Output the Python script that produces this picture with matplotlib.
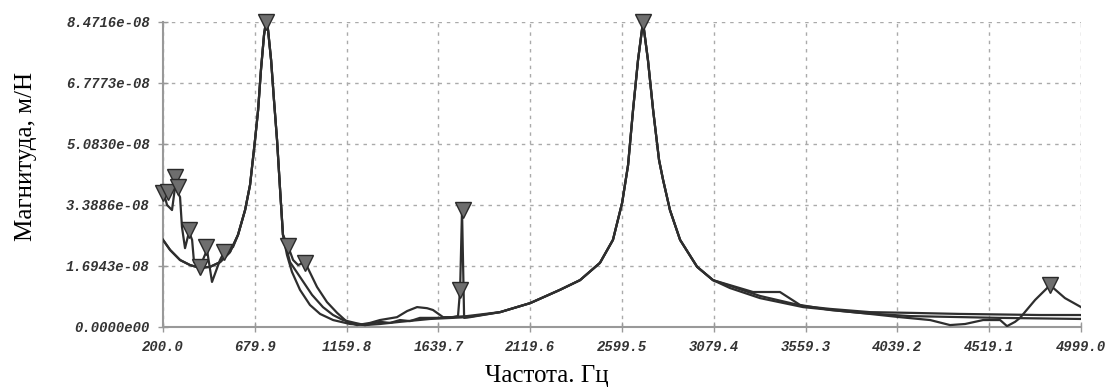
import matplotlib
matplotlib.use("Agg")
import matplotlib.pyplot as plt

# --- data (frequency in Hz, amplitude in 1e-8 m/N) ---
# shared first resonance peak
peak1_f = [592, 629, 655, 681, 697, 712, 728, 738, 749, 765, 780, 796, 812, 827]
peak1_a = [2.55, 3.24, 3.94, 5.19, 6.02, 7.14, 8.11, 8.47, 8.25, 7.41, 6.30, 5.19, 3.80, 2.55]

# shared second resonance peak
peak2_f = [1962, 2119, 2275, 2380, 2484, 2552, 2600, 2631, 2657, 2683, 2709,
           2735, 2762, 2793, 2814, 2850, 2903, 2992, 3075]
peak2_a = [0.40, 0.65, 1.02, 1.29, 1.77, 2.41, 3.44, 4.49, 6.02, 7.41, 8.47,
           7.41, 6.02, 4.63, 4.08, 3.24, 2.41, 1.66, 1.29]

# model curve 1
a_left_f = [200, 237, 289, 341, 393, 446, 498, 550]
a_left_a = [2.41, 2.13, 1.85, 1.71, 1.63, 1.66, 1.79, 2.07]
a_mid_f = [848, 874, 916, 968, 1021, 1089, 1178, 1256, 1334, 1439, 1596, 1789]
a_mid_a = [1.99, 1.52, 1.02, 0.60, 0.35, 0.18, 0.07, 0.04, 0.07, 0.13, 0.21, 0.26]
a_tail_f = [3164, 3321, 3546, 3844, 4105, 4576, 4999]
a_tail_a = [1.07, 0.79, 0.54, 0.38, 0.29, 0.24, 0.21]

# model curve 2
b_mid_f = [864, 916, 979, 1036, 1089, 1141, 1204, 1256, 1334, 1387, 1439, 1491, 1543, 1648, 1789]
b_mid_a = [1.79, 1.38, 0.88, 0.54, 0.32, 0.18, 0.10, 0.04, 0.13, 0.10, 0.18, 0.15, 0.24, 0.24, 0.29]
b_tail_f = [3164, 3321, 3546, 3687, 3896, 4105, 4366, 4785, 4999]
b_tail_a = [1.13, 0.85, 0.57, 0.49, 0.40, 0.38, 0.35, 0.32, 0.32]

# measured curve
c_left_f = [200, 221, 247, 263, 289, 299, 315, 336, 352, 362, 393, 430, 456, 498, 519, 566]
c_left_a = [3.80, 3.38, 3.24, 3.88, 3.60, 2.77, 2.18, 2.63, 2.41, 1.79, 1.66, 2.13, 1.24, 1.85, 2.07, 2.21]
c_mid_f = [853, 880, 906, 942, 1005, 1057, 1110, 1162, 1214, 1282, 1334, 1423, 1476, 1528,
           1580, 1611, 1664, 1716, 1742, 1753, 1763, 1774, 1805]
c_mid_a = [2.24, 1.85, 1.71, 1.79, 1.10, 0.68, 0.38, 0.13, 0.04, 0.10, 0.18, 0.26, 0.43, 0.54,
           0.51, 0.46, 0.26, 0.26, 0.29, 1.02, 3.24, 0.24, 0.26]
c_tail_f = [3164, 3284, 3425, 3530, 3687, 3844, 4053, 4210, 4314, 4393, 4487, 4576, 4612,
            4654, 4680, 4759, 4837, 4915, 4999]
c_tail_a = [1.15, 0.96, 0.96, 0.60, 0.46, 0.38, 0.26, 0.18, 0.04, 0.07, 0.18, 0.18, 0.01,
            0.13, 0.24, 0.74, 1.15, 0.79, 0.54]

# peak markers
mark_f = [200, 226, 263, 278, 336, 425, 393, 519, 738, 853, 942, 1768, 1753, 2709, 4837]
mark_a = [3.71, 3.74, 4.16, 3.88, 2.68, 2.21, 1.66, 2.07, 8.47, 2.24, 1.77, 3.24, 1.02, 8.47, 1.15]

xticks = [200.0, 679.9, 1159.8, 1639.7, 2119.6, 2599.5, 3079.4, 3559.3, 4039.2, 4519.1, 4999.0]
yticks = [0.0, 1.6943e-08, 3.3886e-08, 5.0830e-08, 6.7773e-08, 8.4716e-08]
ylabels = ["0.0000e00", "1.6943e-08", "3.3886e-08", "5.0830e-08", "6.7773e-08", "8.4716e-08"]

curves = [
    (a_left_f + peak1_f + a_mid_f + peak2_f + a_tail_f,
     a_left_a + peak1_a + a_mid_a + peak2_a + a_tail_a),
    (a_left_f + peak1_f + b_mid_f + peak2_f + b_tail_f,
     a_left_a + peak1_a + b_mid_a + peak2_a + b_tail_a),
    (c_left_f + peak1_f + c_mid_f + peak2_f + c_tail_f,
     c_left_a + peak1_a + c_mid_a + peak2_a + c_tail_a),
]

fig = plt.figure(figsize=(11.09, 3.87), dpi=100)
ax = fig.add_axes([0.147, 0.1563, 0.8278, 0.7869])

for fx, amp in curves:
    ax.plot(fx, [v * 1e-8 for v in amp], color="#2e2e2e", lw=1.6, zorder=3)

ax.plot(mark_f, [v * 1e-8 for v in mark_a], "v", ms=11, mfc="#6e6e6e",
        mec="#2a2a2a", mew=1.0, ls="none", zorder=4, clip_on=False)

ax.set_xlim(200, 4999)
ax.set_ylim(0, 8.4716e-08)
ax.set_xticks(xticks)
ax.set_xticklabels(["%.1f" % t for t in xticks])
ax.set_yticks(yticks)
ax.set_yticklabels(ylabels)

for lab in ax.get_xticklabels() + ax.get_yticklabels():
    lab.set_fontfamily("Liberation Mono")
    lab.set_fontstyle("italic")
    lab.set_fontweight("bold")
    lab.set_fontsize(10)
    lab.set_color("#333333")

ax.tick_params(direction="inout", length=7, width=1, color="#999999", pad=6)
ax.grid(True, color="#aaaaaa", linestyle=(0, (2.5, 3.5)), lw=1.0)
for side in ["top", "right"]:
    ax.spines[side].set_visible(False)
for side in ["left", "bottom"]:
    ax.spines[side].set_color("#999999")
    ax.spines[side].set_linewidth(1.5)

ax.set_xlabel("Частота. Гц", family="Liberation Serif", fontsize=18)
ax.set_ylabel("Магнитуда, м/Н", family="Liberation Serif", fontsize=18)
ax.xaxis.set_label_coords(0.418, -0.125)
ax.yaxis.set_label_coords(-0.137, 0.557)

fig.savefig("out.png", dpi=100)
